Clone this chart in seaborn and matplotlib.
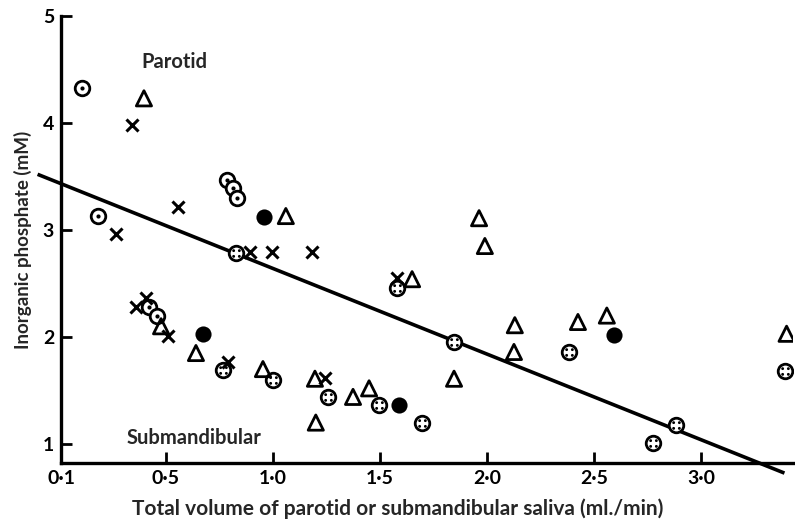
import numpy as np
import pandas as pd
import matplotlib
matplotlib.use("Agg")
import matplotlib.pyplot as plt
from matplotlib.path import Path
import seaborn as sns

# Saliva flow (ml/min) and inorganic phosphate (mM), one pair of arrays per symbol
dot_circle_x = [0.107, 0.182, 0.785, 0.813, 0.832, 0.420, 0.458]
dot_circle_y = [4.33, 3.13, 3.47, 3.39, 3.30, 2.28, 2.20]

cross_x = [0.341, 0.556, 0.266, 0.893, 0.995, 1.182, 0.407, 0.360, 0.509, 0.790, 1.243, 1.580]
cross_y = [3.98, 3.21, 2.96, 2.79, 2.79, 2.79, 2.36, 2.28, 2.01, 1.77, 1.62, 2.55]

triangle_x = [0.397, 1.060, 1.963, 1.990, 1.650, 0.477, 0.640, 0.953, 1.196, 1.200,
              1.374, 1.449, 1.846, 2.130, 2.126, 2.425, 2.560, 3.400]
triangle_y = [4.23, 3.13, 3.11, 2.85, 2.54, 2.10, 1.85, 1.70, 1.61, 1.20,
              1.44, 1.52, 1.61, 2.11, 1.86, 2.14, 2.20, 2.03]

filled_x = [0.958, 0.673, 1.589, 2.593]
filled_y = [3.12, 2.03, 1.36, 2.02]

dotted_ring_x = [0.827, 0.766, 0.999, 1.257, 1.495, 1.696, 1.846, 1.579, 2.383,
                 2.883, 2.776, 3.392]
dotted_ring_y = [2.78, 1.69, 1.60, 1.44, 1.36, 1.20, 1.95, 2.46, 1.86,
                 1.18, 1.01, 1.68]

# Fitted regression line: phosphate = intercept + slope * flow
fit_intercept = 3.44
fit_slope = -0.80
fit_x_range = [-0.10, 3.39]

x_ticks = [0.01, 0.5, 1.0, 1.5, 2.0, 2.5, 3.0]
x_tick_labels = ["0·1", "0·5", "1·0", "1·5", "2·0", "2·5", "3·0"]
y_ticks = [1, 2, 3, 4, 5]
y_tick_labels = ["1", "2", "3", "4", "5"]

sns.set_theme(style="ticks")
plt.rcParams["font.family"] = ["Lato", "DejaVu Sans"]

fig = plt.figure(figsize=(7.95, 5.31), dpi=100)
ax = fig.add_axes([0.0767, 0.128, 0.9208, 0.842])

ink = "black"

# four-dot pattern placed inside the open circles
four_dots = Path.make_compound_path(
    *[Path.circle((dx, dy), 0.14) for dx, dy in [(-0.28, 0.28), (0.28, 0.28), (-0.28, -0.28), (0.28, -0.28)]]
)

def frame(x, y):
    return pd.DataFrame({"flow": x, "phosphate": y})

# regression line (runs a little past both axes)
line_x = np.array(fit_x_range)
ax.plot(line_x, fit_intercept + fit_slope * line_x, color=ink, lw=2.6,
        clip_on=False, zorder=2, solid_capstyle="butt")

# open circles with a centre dot
sns.scatterplot(data=frame(dot_circle_x, dot_circle_y), x="flow", y="phosphate", ax=ax,
                marker="o", s=110, facecolor="white", edgecolor=ink, linewidth=2.0, zorder=3)
sns.scatterplot(data=frame(dot_circle_x, dot_circle_y), x="flow", y="phosphate", ax=ax,
                marker="o", s=9, color=ink, linewidth=0, zorder=4)

# open circles with four dots
sns.scatterplot(data=frame(dotted_ring_x, dotted_ring_y), x="flow", y="phosphate", ax=ax,
                marker="o", s=110, facecolor="white", edgecolor=ink, linewidth=2.0, zorder=3)
sns.scatterplot(data=frame(dotted_ring_x, dotted_ring_y), x="flow", y="phosphate", ax=ax,
                marker=four_dots, s=38, color=ink, linewidth=0, zorder=4)

# crosses
sns.scatterplot(data=frame(cross_x, cross_y), x="flow", y="phosphate", ax=ax,
                marker="x", s=75, color=ink, linewidth=2.2, zorder=3)

# open triangles
sns.scatterplot(data=frame(triangle_x, triangle_y), x="flow", y="phosphate", ax=ax,
                marker="^", s=120, facecolor="none", edgecolor=ink, linewidth=2.0, zorder=3)

# filled circles
sns.scatterplot(data=frame(filled_x, filled_y), x="flow", y="phosphate", ax=ax,
                marker="o", s=135, color=ink, linewidth=0, zorder=3)

ax.set_xlim(0.0093, 3.43)
ax.set_ylim(0.822, 5.0)
ax.set_xticks(x_ticks)
ax.set_xticklabels(x_tick_labels)
ax.set_yticks(y_ticks)
ax.set_yticklabels(y_tick_labels)

sns.despine(ax=ax)
for side in ("left", "bottom"):
    ax.spines[side].set_linewidth(2.4)
    ax.spines[side].set_color(ink)
ax.tick_params(direction="in", length=8, width=2, colors=ink, labelsize=14, pad=5)
for lab in ax.get_xticklabels() + ax.get_yticklabels():
    lab.set_fontweight("bold")

ax.set_xlabel("Total volume of parotid or submandibular saliva (ml./min)",
              fontsize=15, fontweight="bold")
ax.xaxis.set_label_coords(0.46, -0.08)
ax.set_ylabel("Inorganic phosphate (mM)", fontsize=13.5, fontweight="bold", labelpad=8)

ax.text(0.54, 4.57, "Parotid", fontsize=14.5, fontweight="bold", ha="center", va="center")
ax.text(0.63, 1.06, "Submandibular", fontsize=14.5, fontweight="bold", ha="center", va="center")

fig.savefig("out.png", dpi=100, facecolor="white")
